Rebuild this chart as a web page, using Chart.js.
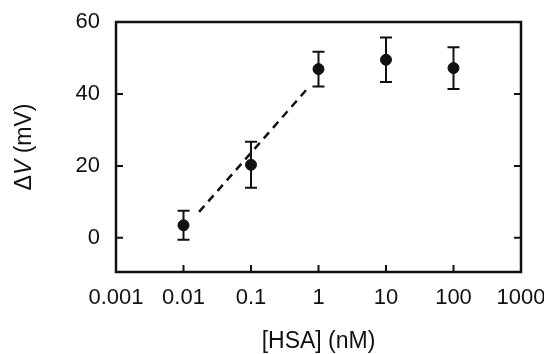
<!DOCTYPE html>
<html>
<head>
<meta charset="utf-8">
<script src="https://cdn.jsdelivr.net/npm/chart.js@4.4.1/dist/chart.umd.min.js"></script>
<style>
  html, body { margin: 0; padding: 0; background: #fff; }
  #wrap { width: 544px; height: 354px; }
</style>
</head>
<body>
<div id="wrap"><canvas id="hsaChart"></canvas></div>
<script>
// values
const hsaConc = [0.01, 0.1, 1, 10, 100];
const deltaV = [3.5, 20.3, 46.9, 49.5, 47.2];
const deltaVErr = [4.0, 6.4, 4.8, 6.2, 5.8];
// dashed linear fit segment
const fitConc = [0.017, 0.68];
const fitV = [7.2, 41.4];
const xTicks = [0.001, 0.01, 0.1, 1, 10, 100, 1000];
const yTicks = [0, 20, 40, 60];

const FONT = '"Liberation Sans", Arial, sans-serif';
const INK = '#111';

// frame, inward ticks, error bars and the y title (italic V)
const framePlugin = {
    id: 'frame',
    beforeDatasetsDraw(chart) {
        const { ctx, scales: { x, y } } = chart;
        ctx.save();
        ctx.strokeStyle = INK;
        ctx.lineWidth = 2;
        hsaConc.forEach((c, i) => {
            const px = x.getPixelForValue(c);
            const top = y.getPixelForValue(deltaV[i] + deltaVErr[i]);
            const bot = y.getPixelForValue(deltaV[i] - deltaVErr[i]);
            ctx.beginPath();
            ctx.moveTo(px, top); ctx.lineTo(px, bot);
            ctx.moveTo(px - 6, top); ctx.lineTo(px + 6, top);
            ctx.moveTo(px - 6, bot); ctx.lineTo(px + 6, bot);
            ctx.stroke();
        });
        ctx.restore();
    },
    afterDraw(chart) {
        const { ctx, chartArea: a, scales: { x, y } } = chart;
        ctx.save();
        ctx.strokeStyle = INK;
        ctx.lineWidth = 2.5;
        ctx.strokeRect(a.left, a.top, a.right - a.left, a.bottom - a.top);

        ctx.lineWidth = 2;
        ctx.beginPath();
        xTicks.forEach(v => {
            const px = x.getPixelForValue(v);
            ctx.moveTo(px, a.bottom); ctx.lineTo(px, a.bottom - 7);
        });
        yTicks.forEach(v => {
            const py = y.getPixelForValue(v);
            ctx.moveTo(a.left, py); ctx.lineTo(a.left + 7, py);
            ctx.moveTo(a.right, py); ctx.lineTo(a.right - 7, py);
        });
        ctx.stroke();

        // y axis title: ΔV (mV) with italic V
        const parts = [
            { t: '\u0394', f: '23px ' + FONT },
            { t: 'V', f: 'italic 23px ' + FONT },
            { t: ' (mV)', f: '23px ' + FONT }
        ];
        let total = 0;
        parts.forEach(p => { ctx.font = p.f; p.w = ctx.measureText(p.t).width; total += p.w; });
        ctx.translate(25, (a.top + a.bottom) / 2);
        ctx.rotate(-Math.PI / 2);
        ctx.fillStyle = INK;
        ctx.textBaseline = 'middle';
        ctx.textAlign = 'left';
        let cx = -total / 2;
        parts.forEach(p => { ctx.font = p.f; ctx.fillText(p.t, cx, 0); cx += p.w; });
        ctx.restore();
    }
};

const ctx = document.getElementById('hsaChart').getContext('2d');

new Chart(ctx, {
    type: 'scatter',
    data: {
        datasets: [
            {
                data: hsaConc.map((c, i) => ({ x: c, y: deltaV[i] })),
                backgroundColor: INK,
                borderColor: INK,
                pointRadius: 5.5,
                pointHoverRadius: 5.5
            },
            {
                data: fitConc.map((c, i) => ({ x: c, y: fitV[i] })),
                showLine: true,
                borderColor: INK,
                borderWidth: 2.5,
                borderDash: [8, 6],
                pointRadius: 0
            }
        ]
    },
    options: {
        responsive: true,
        maintainAspectRatio: false,
        animation: false,
        layout: { padding: { left: 0, top: 22, right: 23, bottom: 0 } },
        plugins: {
            legend: { display: false },
            tooltip: { enabled: false }
        },
        scales: {
            x: {
                type: 'logarithmic',
                min: 0.001,
                max: 1000,
                afterBuildTicks: s => { s.ticks = xTicks.map(v => ({ value: v })); },
                afterFit: s => { s.height = 82; s.paddingLeft = 0; s.paddingRight = 0; },
                grid: { display: false, drawTicks: false },
                border: { display: false },
                ticks: {
                    padding: 13,
                    maxRotation: 0,
                    autoSkip: false,
                    color: INK,
                    font: { family: FONT, size: 22 },
                    callback: v => String(v)
                },
                title: {
                    display: true,
                    text: '[HSA] (nM)',
                    color: INK,
                    font: { family: FONT, size: 23 },
                    padding: { top: 0, bottom: -1 }
                }
            },
            y: {
                min: -9.5,
                max: 60,
                afterBuildTicks: s => { s.ticks = yTicks.map(v => ({ value: v })); },
                afterFit: s => { s.width = 116; s.paddingTop = 0; s.paddingBottom = 0; },
                grid: { display: false, drawTicks: false },
                border: { display: false },
                ticks: {
                    padding: 16,
                    color: INK,
                    font: { family: FONT, size: 22 }
                }
            }
        }
    },
    plugins: [framePlugin]
});
</script>
</body>
</html>
